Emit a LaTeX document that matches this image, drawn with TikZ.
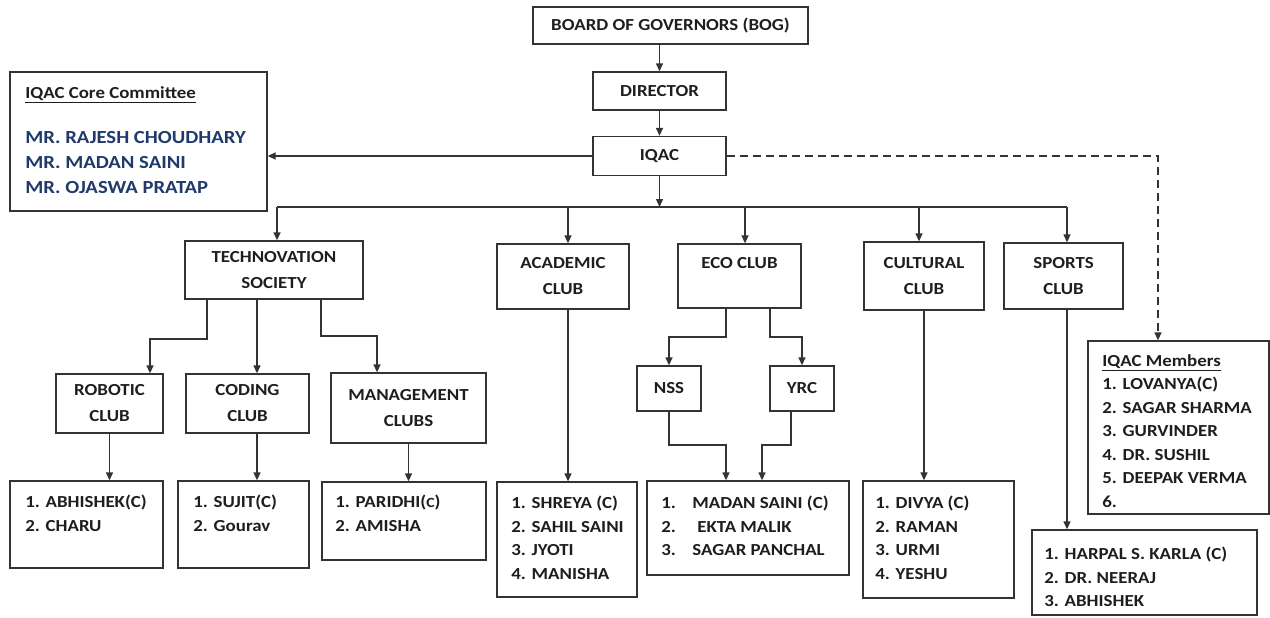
\documentclass[tikz,border=0pt]{standalone}
\usepackage{fontspec}
\setmainfont{Carlito}[FakeStretch=1.12]
\usetikzlibrary{arrows.meta}
\definecolor{lineclr}{HTML}{333333}
\definecolor{txtclr}{HTML}{1E1E1E}
\definecolor{navy}{HTML}{1F3A6B}
\tikzset{
  orgbox/.style={draw=lineclr, line width=0.75pt, inner sep=0pt, align=center,
    text=txtclr, font=\bfseries\fontsize{9.6}{14.8}\selectfont},
  listbox/.style={draw=lineclr, line width=0.75pt, inner sep=0pt},
  listtxt/.style={anchor=north west, inner sep=0pt, align=left, text=txtclr,
    font=\bfseries\fontsize{9.6}{13.4}\selectfont},
  link/.style={draw=lineclr, line width=0.75pt},
  arr/.style={link, -{Triangle[length=0.16cm,width=0.14cm]}},
}
\newcommand{\numcol}[1]{\makebox[0.62cm][l]{#1}}
\begin{document}
\begin{tikzpicture}[x=0.02cm,y=-0.02cm]
\useasboundingbox (0,0) rectangle (1270,618);

% top of the chart
\node[orgbox, minimum width=5.5cm, minimum height=0.74cm] (bog) at (670.5,25.5) {BOARD OF GOVERNORS (BOG)};
\node[orgbox, minimum width=2.66cm, minimum height=0.76cm] (dir) at (659.5,91) {DIRECTOR};
\node[orgbox, minimum width=2.66cm, minimum height=0.78cm] (iqac) at (659.5,156) {IQAC};

\node[listbox, minimum width=5.14cm, minimum height=2.78cm] (core) at (138.5,141.5) {};
\node[listtxt] (coreh) at (25,86) {\underline{IQAC Core Committee}};
\node[listtxt, text=navy, font=\bfseries\fontsize{10.5}{14.2}\selectfont] (coren) at (25,131)
  {MR. RAJESH CHOUDHARY\\MR. MADAN SAINI\\MR. OJASWA PRATAP};

% clubs
\node[orgbox, minimum width=3.56cm, minimum height=1.16cm] (tech) at (274,270) {TECHNOVATION\\SOCIETY};
\node[orgbox, minimum width=2.64cm, minimum height=1.3cm] (acad) at (563,276.5) {ACADEMIC\\CLUB};
\node[orgbox, minimum width=2.46cm, minimum height=1.28cm] (eco) at (739.5,276) {ECO CLUB\\\mbox{}};
\node[orgbox, minimum width=2.4cm, minimum height=1.36cm] (cult) at (924,276) {CULTURAL\\CLUB};
\node[orgbox, minimum width=2.38cm, minimum height=1.32cm] (sport) at (1063.5,276) {SPORTS\\CLUB};

\node[orgbox, minimum width=2.14cm, minimum height=1.18cm] (rob) at (109.5,403.5) {ROBOTIC\\CLUB};
\node[orgbox, minimum width=2.46cm, minimum height=1.18cm] (cod) at (247.5,403.5) {CODING\\CLUB};
\node[orgbox, minimum width=3.1cm, minimum height=1.4cm] (mgmt) at (408.5,408) {MANAGEMENT\\CLUBS};
\node[orgbox, minimum width=1.28cm, minimum height=0.9cm] (nss) at (669,388.5) {NSS};
\node[orgbox, minimum width=1.28cm, minimum height=0.9cm] (yrc) at (802,388.5) {YRC};

% member lists
\node[listbox, minimum width=3.06cm, minimum height=1.74cm] (robm) at (86.5,524.5) {};
\node[listtxt] (robt) at (25,495) {1. ABHISHEK(C)\\2. CHARU};
\node[listbox, minimum width=2.62cm, minimum height=1.74cm] (codm) at (243.5,524.5) {};
\node[listtxt] (codt) at (193,495) {1. SUJIT(C)\\2. Gourav};
\node[listbox, minimum width=3.28cm, minimum height=1.56cm] (mgm) at (404,521) {};
\node[listtxt] (mgt) at (335,495) {1. PARIDHI({\footnotesize C})\\2. AMISHA};
\node[listbox, minimum width=2.8cm, minimum height=2.3cm] (acadm) at (567,539.5) {};
\node[listtxt] (acadt) at (511,496) {1. SHREYA (C)\\2. SAHIL SAINI\\3. JYOTI\\4. MANISHA};
\node[listbox, minimum width=4.04cm, minimum height=1.88cm] (ecom) at (748,528) {};
\node[listtxt] (ecot) at (661,496)
  {\numcol{1.}MADAN SAINI (C)\\\numcol{2.}\hspace{0.1cm}EKTA MALIK\\\numcol{3.}SAGAR PANCHAL};
\node[listbox, minimum width=3.02cm, minimum height=2.34cm] (cultm) at (938.5,539.5) {};
\node[listtxt] (cultt) at (875,496) {1. DIVYA (C)\\2. RAMAN\\3. URMI\\4. YESHU};
\node[listbox, minimum width=4.5cm, minimum height=1.7cm] (sportm) at (1144.5,572.5) {};
\node[listtxt] (sportt) at (1044,547) {1. HARPAL S. KARLA (C)\\2. DR. NEERAJ\\3. ABHISHEK};
\node[listbox, minimum width=3.62cm, minimum height=3.46cm] (memb) at (1178.5,427.5) {};
\node[listtxt] (membt) at (1102,354)
  {\underline{IQAC Members}\\1. LOVANYA(C)\\2. SAGAR SHARMA\\3. GURVINDER\\4. DR. SUSHIL\\5. DEEPAK VERMA\\6.};

% connectors
\coordinate (bT) at (277,207);
\coordinate (bA) at (568,207);
\coordinate (bE) at (745,207);
\coordinate (bC) at (919,207);
\coordinate (bS) at (1067,207);
\coordinate (dq) at (1158,156);

\draw[arr] (dir.north |- bog.south) -- (dir.north);
\draw[arr] (dir.south) -- (iqac.north);
\draw[arr] (iqac.west) -- (iqac.west -| core.east);
\draw[arr, dash pattern=on 0.16cm off 0.1cm] (iqac.east) -- (dq) -- (dq |- memb.north);
\draw[arr] (iqac.south) -- (iqac.south |- bT);
\draw[link] (bT) -- (bS);
\foreach \b/\n in {bT/tech,bA/acad,bE/eco,bC/cult,bS/sport}
  \draw[arr] (\b) -- (\b |- \n.north);

\coordinate (kr1) at (207,339);
\coordinate (kr2) at (150,339);
\coordinate (kc) at (257,339);
\coordinate (km1) at (321,336);
\coordinate (km2) at (377,336);
\draw[arr] (kr1 |- tech.south) -- (kr1) -- (kr2) -- (kr2 |- rob.north);
\draw[arr] (kc |- tech.south) -- (kc |- cod.north);
\draw[arr] (km1 |- tech.south) -- (km1) -- (km2) -- (km2 |- mgmt.north);

\draw[arr] (rob.south) -- (rob.south |- robm.north);
\draw[arr] (kc |- cod.south) -- (kc |- codm.north);
\draw[arr] (mgmt.south) -- (mgmt.south |- mgm.north);
\draw[arr] (bA |- acad.south) -- (bA |- acadm.north);

\coordinate (ke1) at (726,337);
\coordinate (ke2) at (770,337);
\coordinate (kn) at (726,445);
\coordinate (ky1) at (791,445);
\coordinate (ky2) at (762,445);
\draw[arr] (ke1 |- eco.south) -- (ke1) -| (nss.north);
\draw[arr] (ke2 |- eco.south) -- (ke2) -| (yrc.north);
\draw[arr] (nss.south) |- (kn) -- (kn |- ecom.north);
\draw[arr] (ky1 |- yrc.south) -- (ky1) -- (ky2) -- (ky2 |- ecom.north);

\draw[arr] (cult.south) -- (cult.south |- cultm.north);
\draw[arr] (bS |- sport.south) -- (bS |- sportm.north);
\end{tikzpicture}
\end{document}
